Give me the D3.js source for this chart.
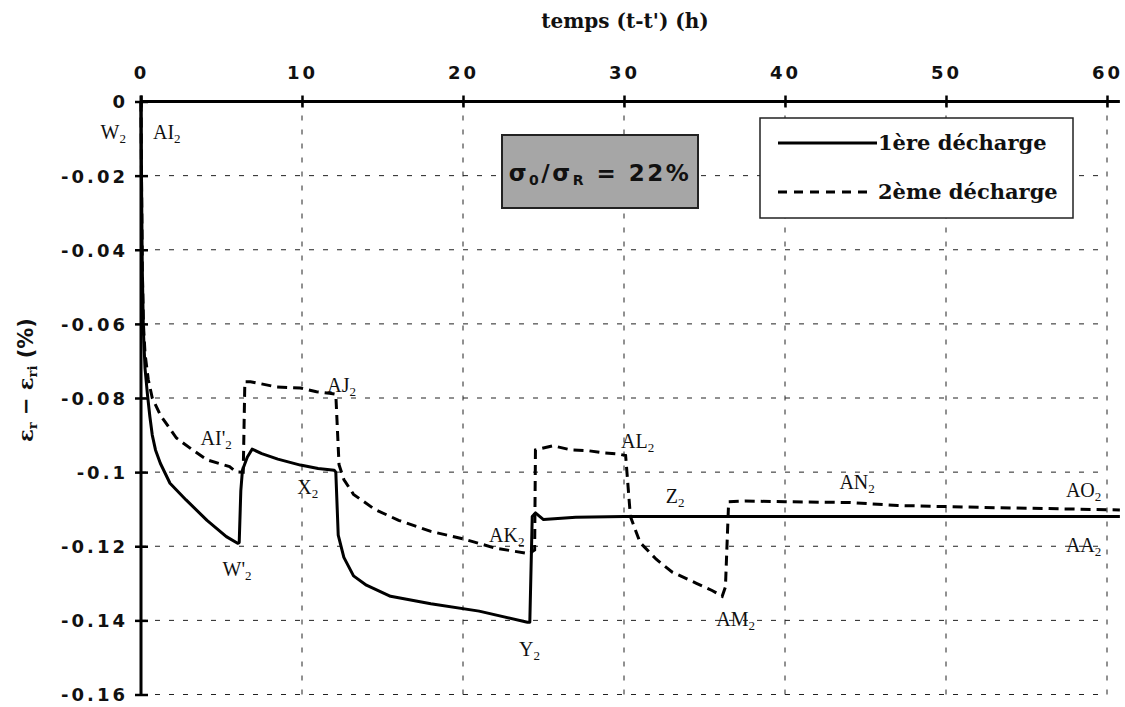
<!DOCTYPE html>
<html>
<head>
<meta charset="utf-8">
<script src="https://cdn.jsdelivr.net/npm/d3@7"></script>
<style>
  html, body { margin: 0; padding: 0; background: #fff; }
  svg { display: block; }
  .tick-lbl { font-family: "DejaVu Sans", sans-serif; font-weight: bold; font-size: 18px; letter-spacing: 3px; fill: #111; }
  .serif-b { font-family: "DejaVu Serif", serif; font-weight: bold; fill: #111; }
  .pt-lbl { font-family: "Liberation Serif", serif; font-size: 20px; fill: #111; }
</style>
</head>
<body>
<svg id="chart" width="1125" height="707"></svg>
<script>
// Time axis (hours) and strain axis (%)
const xTicks = [0, 10, 20, 30, 40, 50, 60];
const yTicks = [0, -0.02, -0.04, -0.06, -0.08, -0.1, -0.12, -0.14, -0.16];
const yTickLabels = ["0", "-0.02", "-0.04", "-0.06", "-0.08", "-0.1", "-0.12", "-0.14", "-0.16"];

// First unloading (1ère décharge): [time h, strain %]
const firstUnload = [
  [0, 0], [0.03, -0.02], [0.08, -0.045], [0.15, -0.062], [0.25, -0.072], [0.4, -0.079],
  [0.55, -0.085], [0.7, -0.09], [0.9, -0.094], [1.2, -0.0976], [1.8, -0.103], [2.8, -0.1075],
  [4.1, -0.113], [5.3, -0.1174], [6.0, -0.1192], [6.1, -0.119], [6.2, -0.105], [6.3, -0.0995],
  [6.6, -0.096], [6.9, -0.0938], [7.5, -0.095], [8.5, -0.0965], [9.9, -0.0981], [11, -0.099],
  [12.0, -0.0995], [12.1, -0.1], [12.25, -0.117], [12.6, -0.123], [13.2, -0.128], [14, -0.1305],
  [15.5, -0.1335], [18, -0.1355], [21, -0.1375], [24.0, -0.1405], [24.15, -0.1405], [24.3, -0.112],
  [24.5, -0.111], [25, -0.1128], [27, -0.1122], [30, -0.112], [40, -0.112], [50, -0.112], [60.8, -0.112]
];

// Second unloading (2ème décharge): [time h, strain %]
const secondUnload = [
  [0, 0], [0.03, -0.02], [0.08, -0.045], [0.15, -0.06], [0.25, -0.068], [0.45, -0.075],
  [0.7, -0.08], [1.2, -0.0846], [2.2, -0.0908], [3.2, -0.094], [4.1, -0.0967], [5.5, -0.0985],
  [5.9, -0.0999], [6.35, -0.1], [6.45, -0.0756], [6.8, -0.0756], [8.4, -0.077], [9.9, -0.0773],
  [10.9, -0.0783], [11.7, -0.0787], [12.1, -0.079], [12.3, -0.098], [12.6, -0.102], [13.2, -0.106],
  [14.5, -0.11], [16, -0.113], [18, -0.116], [20, -0.118], [22, -0.1205], [24.1, -0.122],
  [24.45, -0.121], [24.5, -0.094], [25.6, -0.0929], [26.7, -0.094], [27.75, -0.0942], [28.7, -0.0948],
  [29.6, -0.0951], [30.1, -0.0955], [30.4, -0.112], [31, -0.119], [32, -0.1235], [33, -0.127],
  [34.5, -0.13], [35.5, -0.132], [36.1, -0.1335], [36.3, -0.131], [36.5, -0.108], [37.5, -0.1078],
  [40, -0.108], [44, -0.1082], [47, -0.109], [52, -0.1095], [60.8, -0.1102]
];

// Named states along the curves: [name, index, time h, strain %]
const statePoints = [
  ["W", "2", 0, 0], ["AI", "2", 0, 0],
  ["AI'", "2", 6.0, -0.0999], ["W'", "2", 6.0, -0.1192],
  ["AJ", "2", 11.7, -0.0787], ["X", "2", 12.0, -0.0995],
  ["AK", "2", 24.1, -0.122], ["Y", "2", 24.1, -0.1405],
  ["AL", "2", 30.0, -0.0955], ["Z", "2", 32.6, -0.112],
  ["AM", "2", 36.1, -0.1335], ["AN", "2", 44.0, -0.1082],
  ["AO", "2", 59.0, -0.1100], ["AA", "2", 59.0, -0.112]
];

const svg = d3.select("#chart");
const x = d3.scaleLinear().domain([0, 60]).range([141, 1107]);
const y = d3.scaleLinear().domain([0, -0.16]).range([101.5, 694.5]);

// Grid
const grid = svg.append("g").attr("stroke", "#222").attr("stroke-width", 1).attr("stroke-dasharray", "5,9");
grid.selectAll("line.h").data(yTicks.slice(1)).join("line")
  .attr("x1", x(0)).attr("x2", x(60)).attr("y1", d => y(d)).attr("y2", d => y(d));
grid.selectAll("line.v").data(xTicks.slice(1)).join("line")
  .attr("y1", y(0)).attr("y2", y(-0.16)).attr("x1", d => x(d)).attr("x2", d => x(d));

// Top time axis
const xAxis = d3.axisTop(x).tickValues(xTicks).tickSize(0).tickFormat(d3.format("d"));
const gx = svg.append("g").attr("transform", `translate(0,${y(0)})`).call(xAxis);
gx.select(".domain").attr("d", `M${x(0)},0H${x(60.8)}`).attr("stroke", "#000").attr("stroke-width", 3);
gx.selectAll(".tick text").attr("class", "tick-lbl").attr("dy", 0).attr("y", -23).attr("font-size", null).attr("font-family", null);
gx.selectAll(".tick").append("line").attr("y1", -6).attr("y2", 6).attr("stroke", "#000").attr("stroke-width", 2.5);

// Left strain axis
const yAxis = d3.axisLeft(y).tickValues(yTicks).tickSize(0).tickFormat((d, i) => yTickLabels[i]);
const gy = svg.append("g").attr("transform", `translate(${x(0)},0)`).call(yAxis);
gy.select(".domain").attr("d", `M0,${y(0) - 6}V${y(-0.16)}`).attr("stroke", "#000").attr("stroke-width", 3);
gy.selectAll(".tick text").attr("class", "tick-lbl").attr("x", -13).attr("dy", "0.36em").attr("font-size", null).attr("font-family", null);
gy.selectAll(".tick").append("line").attr("x1", -6).attr("x2", 7).attr("stroke", "#000").attr("stroke-width", 2.5);

// Curves
const line = d3.line().x(d => x(d[0])).y(d => y(d[1]));
const plot = svg.append("g");
plot.append("path").datum(firstUnload).attr("d", line)
  .attr("fill", "none").attr("stroke", "#000").attr("stroke-width", 3).attr("stroke-linejoin", "round");
plot.append("path").datum(secondUnload).attr("d", line)
  .attr("fill", "none").attr("stroke", "#000").attr("stroke-width", 3).attr("stroke-dasharray", "10,6");

// State labels
const offsets = {
  "W": [-15, 37, "end"], "AI": [12, 37, "start"], "AI'": [-37, -27, "start"], "W'": [-15, 33, "start"],
  "AJ": [-2, -1, "start"], "X": [-37, 24, "start"], "AK": [-40, -12, "start"], "Y": [-10, 34, "start"],
  "AL": [-3, -7, "start"], "Z": [0, -14, "start"], "AM": [-6, 30, "start"], "AN": [-10, -14, "start"],
  "AO": [-25, -12, "start"], "AA": [-25, 35, "start"]
};
const lbl = svg.append("g");
statePoints.forEach(([name, sub, t, v]) => {
  const o = offsets[name];
  const tx = lbl.append("text").attr("class", "pt-lbl")
    .attr("x", x(t) + o[0]).attr("y", y(v) + o[1]).attr("text-anchor", o[2]);
  tx.append("tspan").text(name);
  tx.append("tspan").attr("font-size", 13).attr("dy", 4).text(sub);
});

// Title
svg.append("text").attr("class", "serif-b").attr("x", 625).attr("y", 28)
  .attr("text-anchor", "middle").attr("font-size", 20).text("temps (t-t') (h)");

// Y axis title
const yl = svg.append("text").attr("class", "serif-b").attr("font-size", 21)
  .attr("transform", `translate(33,380) rotate(-90)`).attr("text-anchor", "middle");
yl.append("tspan").text("ε");
yl.append("tspan").attr("font-size", 13).attr("dy", 4).text("r");
yl.append("tspan").attr("dy", -4).text(" − ε");
yl.append("tspan").attr("font-size", 13).attr("dy", 4).text("ri");
yl.append("tspan").attr("dy", -4).attr("font-family", "DejaVu Sans").text(" (%)");

// Stress ratio box
svg.append("rect").attr("x", 502).attr("y", 135).attr("width", 196).attr("height", 73)
  .attr("fill", "#a6a6a6").attr("stroke", "#222").attr("stroke-width", 2);
const st = svg.append("text").attr("x", 600).attr("y", 181).attr("text-anchor", "middle")
  .attr("font-family", "DejaVu Sans").attr("font-weight", "bold").attr("font-size", 23)
  .attr("letter-spacing", 2.5).attr("fill", "#111");
st.append("tspan").text("σ");
st.append("tspan").attr("font-size", 14).attr("dy", 4).text("0");
st.append("tspan").attr("dy", -4).text("/σ");
st.append("tspan").attr("font-size", 14).attr("dy", 4).text("R");
st.append("tspan").attr("dy", -4).text(" = 22%");

// Legend
const lg = svg.append("g");
lg.append("rect").attr("x", 760).attr("y", 118).attr("width", 313).attr("height", 100)
  .attr("fill", "#fff").attr("stroke", "#222").attr("stroke-width", 1.5);
lg.append("line").attr("x1", 778).attr("x2", 877).attr("y1", 143).attr("y2", 143)
  .attr("stroke", "#000").attr("stroke-width", 3);
lg.append("line").attr("x1", 778).attr("x2", 870).attr("y1", 192).attr("y2", 192)
  .attr("stroke", "#000").attr("stroke-width", 3).attr("stroke-dasharray", "9,7");
lg.append("text").attr("class", "serif-b").attr("font-size", 21).attr("x", 878).attr("y", 150).text("1ère décharge");
lg.append("text").attr("class", "serif-b").attr("font-size", 21).attr("x", 878).attr("y", 199).text("2ème décharge");
</script>
</body>
</html>
